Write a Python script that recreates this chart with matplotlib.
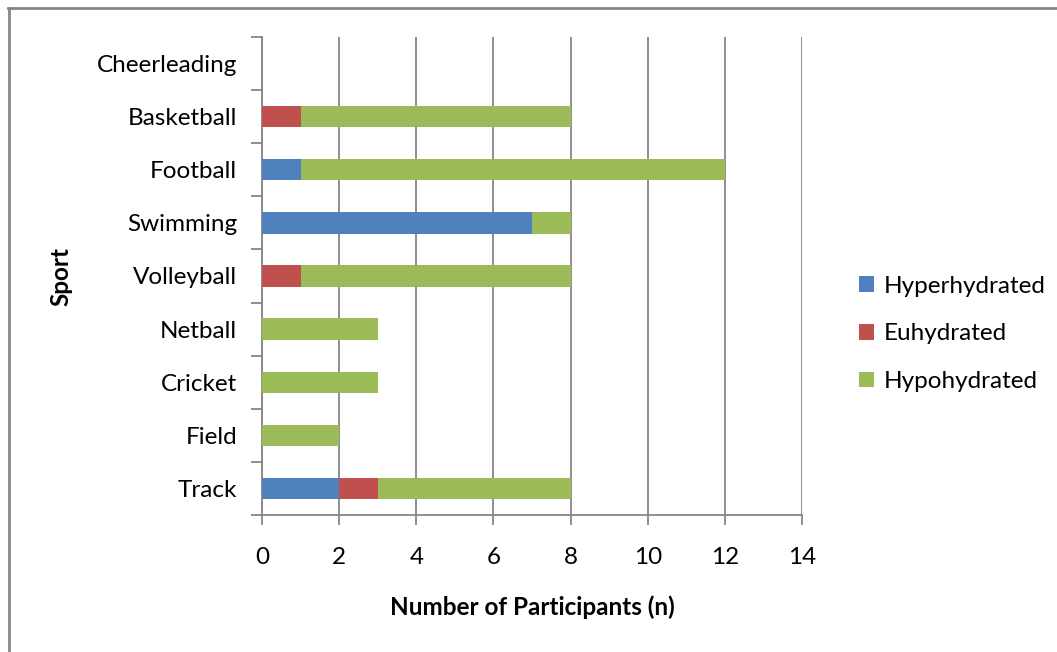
#!/usr/bin/env python3
import matplotlib
matplotlib.use("Agg")
import matplotlib.pyplot as plt
from matplotlib.lines import Line2D
import numpy as np

sports = ["Track", "Field", "Cricket", "Netball", "Volleyball",
          "Swimming", "Football", "Basketball", "Cheerleading"]
hyper = [2, 0, 0, 0, 0, 7, 1, 0, 0]
eu = [1, 0, 0, 0, 1, 0, 0, 1, 0]
hypo = [5, 2, 3, 3, 7, 1, 11, 7, 0]
series = ["Hyperhydrated", "Euhydrated", "Hypohydrated"]
colors = ["#4F81BD", "#C0504D", "#9BBB59"]
xticks = [0, 2, 4, 6, 8, 10, 12, 14]

plt.rcParams["font.family"] = ["Lato", "DejaVu Sans"]
grey = "#868686"
fs = 17.5

fig = plt.figure(figsize=(10.57, 6.52), dpi=100)
W, H = 1057, 652
ax = fig.add_axes([262 / W, 1 - 515 / H, (802 - 262) / W, (515 - 37) / H])

y = np.arange(len(sports))
left = np.zeros(len(sports))
for vals, name, c in zip([hyper, eu, hypo], series, colors):
    vals = np.array(vals, dtype=float)
    ax.barh(y, vals, left=left, height=0.4, color=c, label=name, zorder=3)
    left += vals

ax.set_xlim(0, 14)
ax.set_ylim(-0.5, len(sports) - 0.5)
ax.set_xticks(xticks)
ax.set_yticks(y)
ax.set_yticklabels(sports)
ax.set_yticks(np.arange(-0.5, len(sports)), minor=True)
ax.tick_params(axis="y", which="major", length=0, pad=18, labelsize=fs)
ax.tick_params(axis="y", which="minor", length=8, color=grey, width=1.3)
ax.tick_params(axis="x", length=7, color=grey, width=1.3, pad=16, labelsize=fs)
ax.xaxis.grid(True, color=grey, linewidth=1.3, zorder=0)
for s in ["top", "right"]:
    ax.spines[s].set_visible(False)
for s in ["left", "bottom"]:
    ax.spines[s].set_color(grey)
    ax.spines[s].set_linewidth(1.3)

ax.set_xlabel("Number of Participants (n)", fontsize=fs, fontweight="bold", labelpad=20)
ax.set_ylabel("Sport", fontsize=fs, fontweight="bold")
ax.yaxis.set_label_coords(-(262 - 72) / 540, 0.5)

fig.legend(loc="center left", bbox_to_anchor=(859 / W, 1 - 334 / H),
           frameon=False, fontsize=fs, handlelength=0.6, handleheight=0.6,
           handletextpad=0.4, labelspacing=1.1, borderpad=0, borderaxespad=0)

# outer chart border (left and top visible)
fig.add_artist(Line2D([8.5 / W, 8.5 / W], [0, 1 - 8 / H], color=grey, lw=2,
                      transform=fig.transFigure))
fig.add_artist(Line2D([8 / W, 1], [1 - 8 / H, 1 - 8 / H], color=grey, lw=2,
                      transform=fig.transFigure))

fig.savefig("out.png", dpi=100)
